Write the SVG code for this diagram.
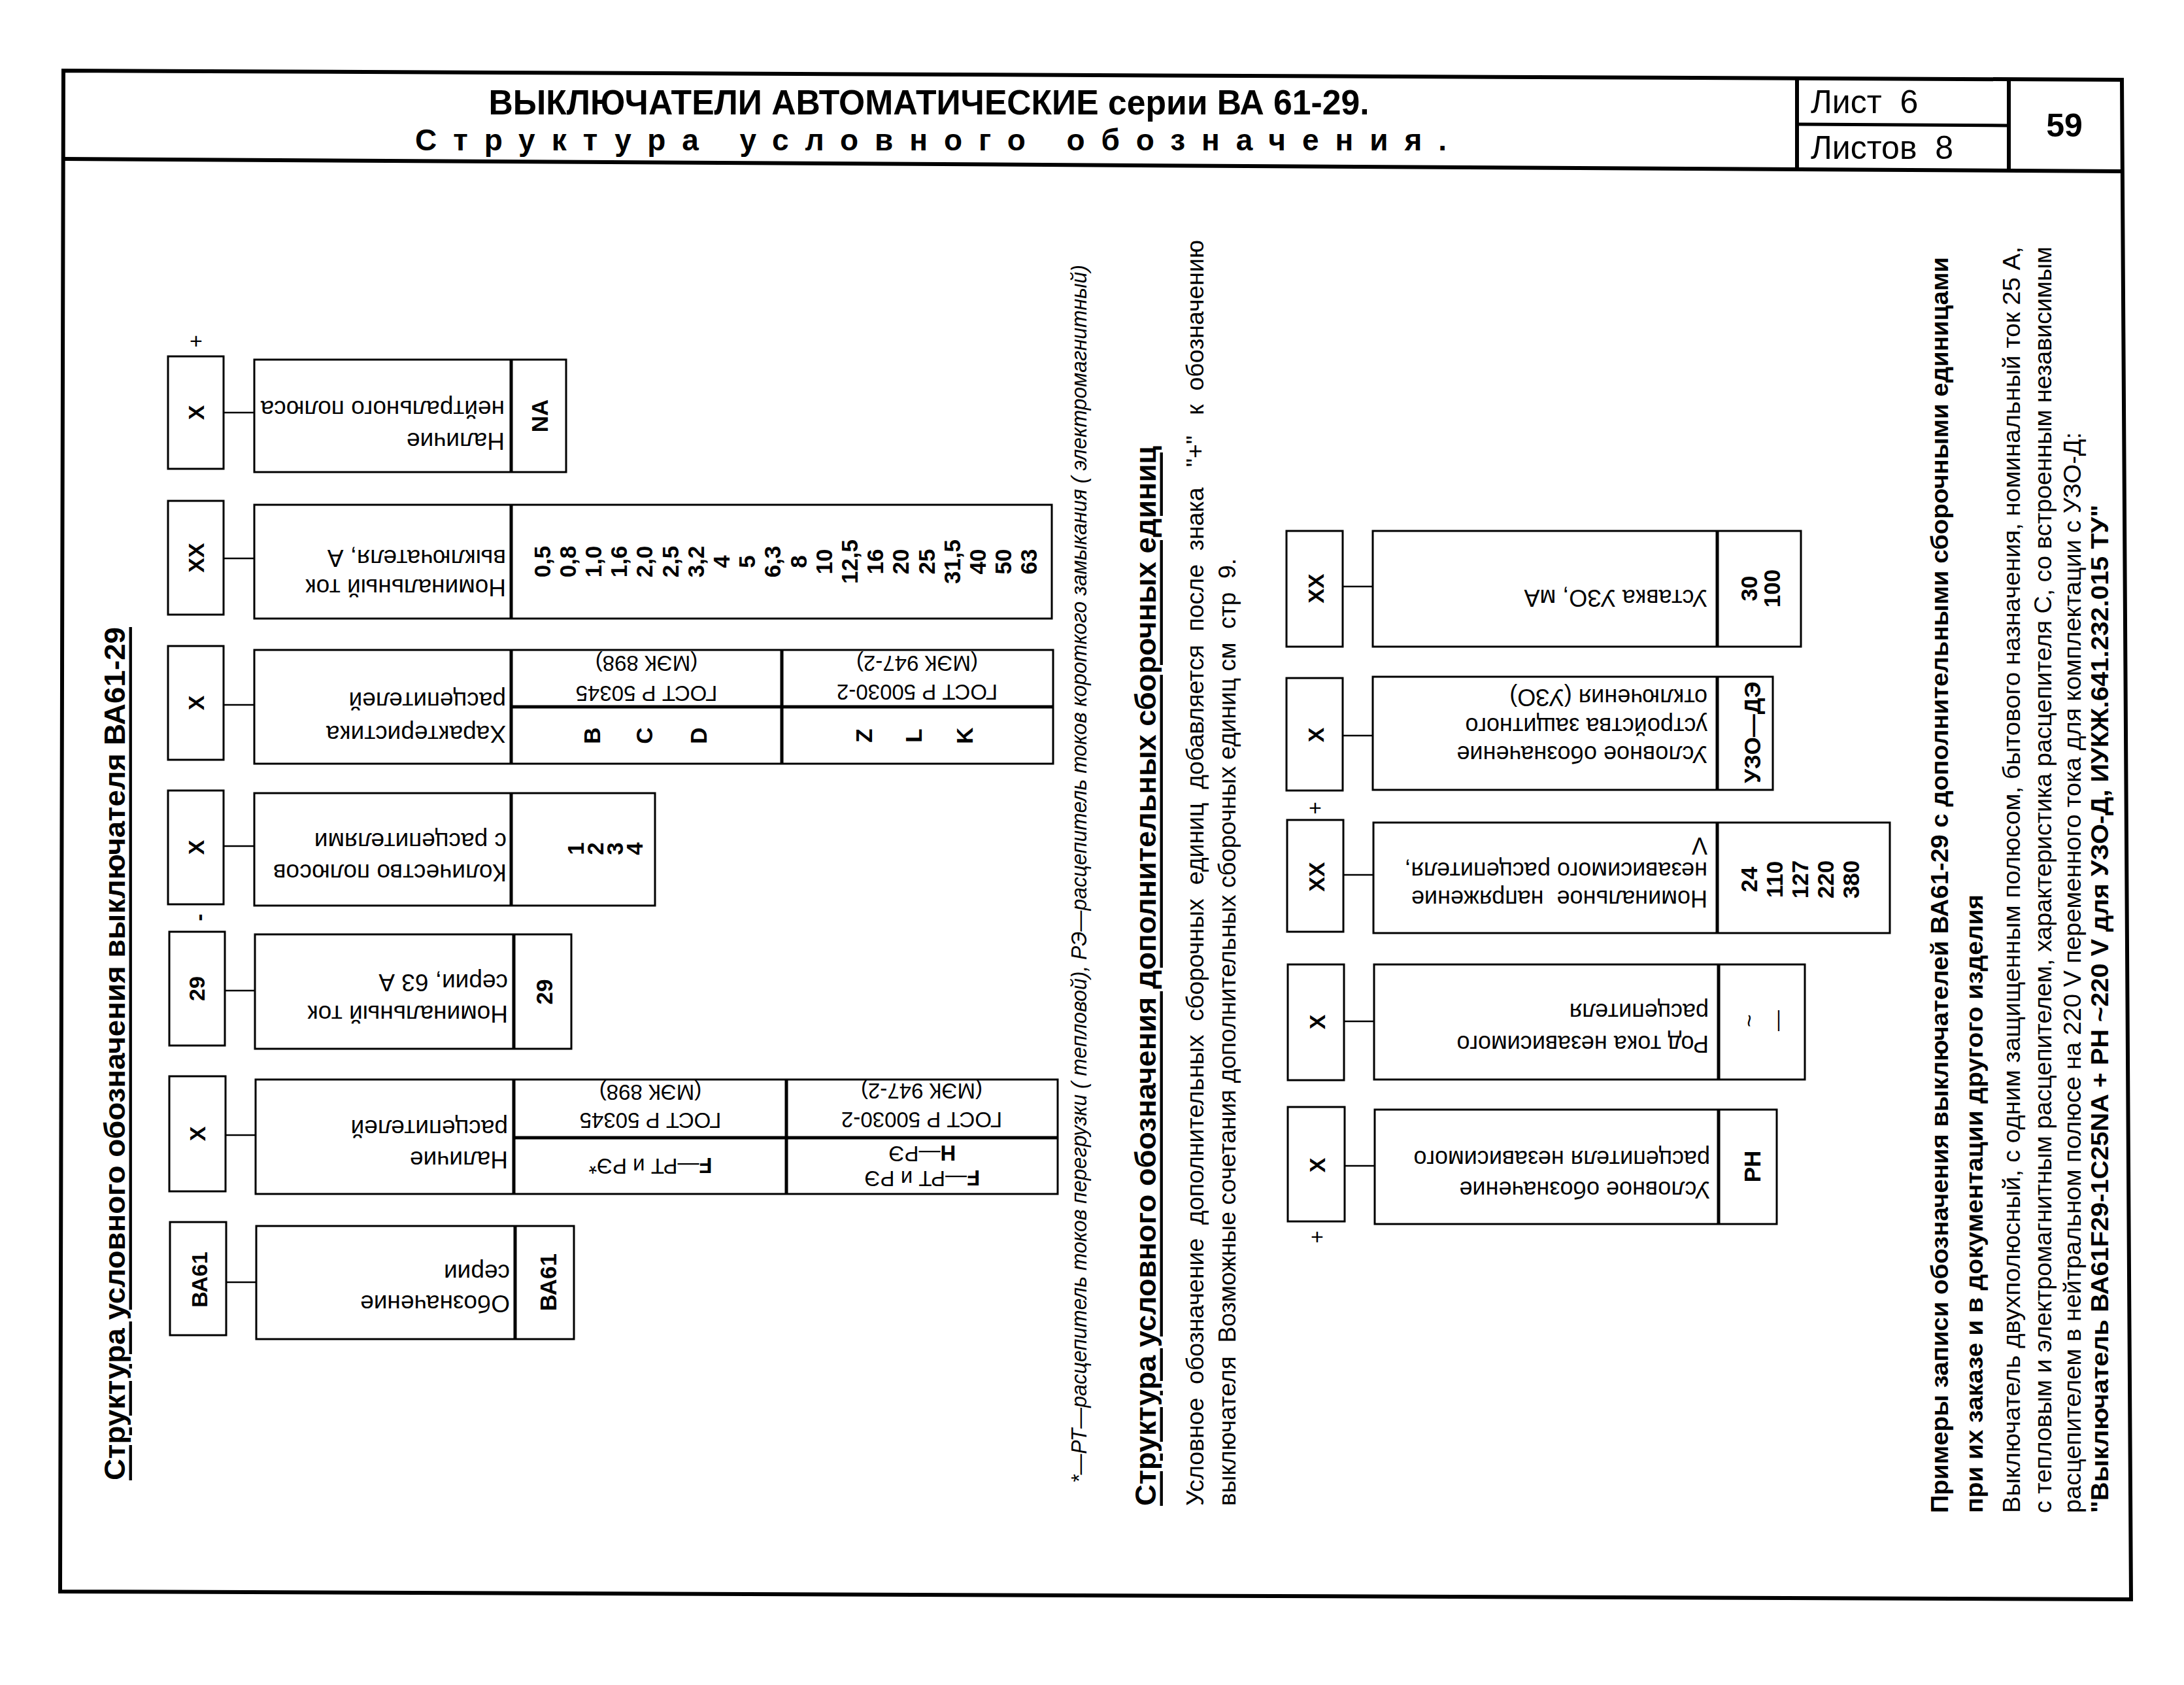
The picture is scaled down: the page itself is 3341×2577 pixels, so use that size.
<svg xmlns="http://www.w3.org/2000/svg" width="3341" height="2577" viewBox="0 0 3341 2577">
<style>
text{font-family:"Liberation Sans",Arial,"Noto Sans",sans-serif;fill:#000;dominant-baseline:central}
.b{font-weight:bold}
.box{fill:none;stroke:#000;stroke-width:3}
.dv{stroke:#000;stroke-width:5;fill:none}
.frame{stroke:#000;stroke-width:6;fill:none}
.conn line{stroke:#000;stroke-width:2.5}
.code{font-weight:bold;font-size:34px}
.val{font-weight:bold;font-size:35px}
.lbl{font-size:37px}
.lbl2{font-size:36px}
.gost{font-size:33px}
.sign{font-size:34px}
.txt{font-size:36px}
</style>
<rect width="3341" height="2577" fill="#fff"/>

<g id="frame">
<polygon class="frame" points="97,108 3246,122 3260,2446 92,2434"/>
<line class="frame" x1="97" y1="243" x2="3246" y2="262"/>
<line class="frame" x1="2749" y1="120" x2="2749" y2="259"/>
<line class="frame" x1="3073" y1="121" x2="3073" y2="261"/>
<line class="dv" x1="2749" y1="190" x2="3073" y2="192"/>
</g>

<g id="header">
<text class="b" x="1421" y="156" text-anchor="middle" font-size="54" textLength="1347" lengthAdjust="spacingAndGlyphs">ВЫКЛЮЧАТЕЛИ АВТОМАТИЧЕСКИЕ серии ВА 61-29.</text>
<text class="b" x="635" y="214" font-size="46" textLength="1578" lengthAdjust="spacing">Структура условного обозначения.</text>
<text x="2770" y="156" font-size="50" xml:space="preserve">Лист  6</text>
<text x="2770" y="226" font-size="50" xml:space="preserve">Листов  8</text>
<text class="b" x="3158" y="192" font-size="50" text-anchor="middle">59</text>
</g>

<g id="titles">
<text class="b" x="175" y="2264" font-size="44" text-decoration="underline" transform="rotate(-90 175 2264)" textLength="1305" lengthAdjust="spacingAndGlyphs">Структура условного обозначения выключателя ВА61-29</text>
<text x="1650" y="2268" font-size="34" font-style="italic" transform="rotate(-90 1650 2268)" textLength="1863" lengthAdjust="spacingAndGlyphs">*—РТ—расцепитель токов перегрузки ( тепловой),  РЭ—расцепитель токов короткого замыкания ( электромагнитный)</text>
<text class="b" x="1752" y="2303" font-size="44" text-decoration="underline" transform="rotate(-90 1752 2303)" textLength="1621" lengthAdjust="spacingAndGlyphs">Структура условного обозначения дополнительных сборочных единиц</text>
<text class="txt" x="1828" y="2303" transform="rotate(-90 1828 2303)" textLength="1936" lengthAdjust="spacingAndGlyphs" xml:space="preserve">Условное  обозначение  дополнительных  сборочных  единиц  добавляется  после  знака   "+"   к  обозначению</text>
<text class="txt" x="1877" y="2303" transform="rotate(-90 1877 2303)" textLength="1449" lengthAdjust="spacingAndGlyphs" xml:space="preserve">выключателя  Возможные сочетания дополнительных сборочных единиц см  стр  9.</text>
</g>

<g id="examples">
<text class="txt b" x="2967" y="2314" transform="rotate(-90 2967 2314)" textLength="1921" lengthAdjust="spacingAndGlyphs">Примеры записи обозначения выключателей ВА61-29 с дополнительными сборочными единицами</text>
<text class="txt b" x="3020" y="2314" transform="rotate(-90 3020 2314)" textLength="946" lengthAdjust="spacingAndGlyphs">при их заказе и в документации другого изделия</text>
<text class="txt" x="3077" y="2314" transform="rotate(-90 3077 2314)" textLength="1937" lengthAdjust="spacingAndGlyphs">Выключатель двухполюсный,  с одним защищенным полюсом,  бытового назначения,  номинальный ток 25 А,</text>
<text class="txt" x="3125" y="2314" transform="rotate(-90 3125 2314)" textLength="1937" lengthAdjust="spacingAndGlyphs">с тепловым и электромагнитным расцепителем, характеристика расцепителя С, со встроенным независимым</text>
<text class="txt" x="3170" y="2314" transform="rotate(-90 3170 2314)" textLength="1653" lengthAdjust="spacingAndGlyphs">расцепителем в нейтральном полюсе на 220 V переменного тока для комплектации с УЗО-Д:</text>
<text class="txt b" x="3212" y="2314" transform="rotate(-90 3212 2314)" textLength="1542" lengthAdjust="spacingAndGlyphs">"Выключатель ВА61F29-1C25NA + РН ~220 V для УЗО-Д, ИУКЖ.641.232.015 ТУ"</text>
</g>

<g id="connectors" class="conn">
<line x1="342" y1="631" x2="389" y2="631"/>
<line x1="342" y1="854" x2="389" y2="854"/>
<line x1="342" y1="1078" x2="389" y2="1078"/>
<line x1="342" y1="1294" x2="389" y2="1294"/>
<line x1="344" y1="1515" x2="390" y2="1515"/>
<line x1="345" y1="1736" x2="391" y2="1736"/>
<line x1="346" y1="1961" x2="392" y2="1961"/>
<line x1="2054" y1="897" x2="2100" y2="897"/>
<line x1="2054" y1="1125" x2="2100" y2="1125"/>
<line x1="2055" y1="1338" x2="2101" y2="1338"/>
<line x1="2056" y1="1562" x2="2102" y2="1562"/>
<line x1="2057" y1="1783" x2="2103" y2="1783"/>
</g>

<g id="signs">
<text class="sign" x="300" y="521" text-anchor="middle">+</text>
<text class="sign b" x="304" y="1403" text-anchor="middle" transform="rotate(-90 304 1403)">-</text>
<text class="sign" x="2012" y="1235" text-anchor="middle">+</text>
<text class="sign" x="2015" y="1891" text-anchor="middle">+</text>
</g>

<g id="node-neutral">
<rect class="box" x="257" y="545" width="85" height="172"/>
<text class="code" x="300" y="631" text-anchor="middle" transform="rotate(-90 300 631)">X</text>
<rect class="box" x="389" y="550" width="477" height="172"/>
<line class="dv" x1="782" y1="550" x2="782" y2="722"/>
<text class="lbl" x="772" y="674" transform="rotate(180 772 674)">Наличие</text>
<text class="lbl" x="772" y="625" transform="rotate(180 772 625)">нейтрального полюса</text>
<text class="val" x="825" y="636" text-anchor="middle" transform="rotate(-90 825 636)">NA</text>
</g>

<g id="node-current">
<rect class="box" x="257" y="766" width="85" height="174"/>
<text class="code" x="300" y="853" text-anchor="middle" transform="rotate(-90 300 853)">XX</text>
<rect class="box" x="389" y="772" width="1220" height="174"/>
<line class="dv" x1="782" y1="772" x2="782" y2="946"/>
<text class="lbl" x="774" y="898" transform="rotate(180 774 898)">Номинальный ток</text>
<text class="lbl" x="774" y="853" transform="rotate(180 774 853)">выключателя, А</text>
<g class="val" text-anchor="middle">
<text x="829" y="859" transform="rotate(-90 829 859)">0,5</text>
<text x="868.2" y="859" transform="rotate(-90 868.2 859)">0,8</text>
<text x="907.4" y="859" transform="rotate(-90 907.4 859)">1,0</text>
<text x="946.6" y="859" transform="rotate(-90 946.6 859)">1,6</text>
<text x="985.8" y="859" transform="rotate(-90 985.8 859)">2,0</text>
<text x="1025" y="859" transform="rotate(-90 1025 859)">2,5</text>
<text x="1064.2" y="859" transform="rotate(-90 1064.2 859)">3,2</text>
<text x="1103.4" y="859" transform="rotate(-90 1103.4 859)">4</text>
<text x="1142.6" y="859" transform="rotate(-90 1142.6 859)">5</text>
<text x="1181.8" y="859" transform="rotate(-90 1181.8 859)">6,3</text>
<text x="1221" y="859" transform="rotate(-90 1221 859)">8</text>
<text x="1260.2" y="859" transform="rotate(-90 1260.2 859)">10</text>
<text x="1299.4" y="859" transform="rotate(-90 1299.4 859)">12,5</text>
<text x="1338.6" y="859" transform="rotate(-90 1338.6 859)">16</text>
<text x="1377.8" y="859" transform="rotate(-90 1377.8 859)">20</text>
<text x="1417" y="859" transform="rotate(-90 1417 859)">25</text>
<text x="1456.2" y="859" transform="rotate(-90 1456.2 859)">31,5</text>
<text x="1495.4" y="859" transform="rotate(-90 1495.4 859)">40</text>
<text x="1534.6" y="859" transform="rotate(-90 1534.6 859)">50</text>
<text x="1573.8" y="859" transform="rotate(-90 1573.8 859)">63</text>
</g>
</g>

<g id="node-characteristic">
<rect class="box" x="257" y="988" width="85" height="174"/>
<text class="code" x="300" y="1075" text-anchor="middle" transform="rotate(-90 300 1075)">X</text>
<rect class="box" x="389" y="994" width="1222" height="174"/>
<line class="dv" x1="782" y1="994" x2="782" y2="1168"/>
<line class="dv" x1="1196" y1="994" x2="1196" y2="1168"/>
<line class="dv" x1="782" y1="1081" x2="1611" y2="1081"/>
<text class="lbl" x="774" y="1122" transform="rotate(180 774 1122)">Характеристика</text>
<text class="lbl" x="774" y="1071" transform="rotate(180 774 1071)">расцепителей</text>
<text class="gost" x="989" y="1060" text-anchor="middle" transform="rotate(180 989 1060)">ГОСТ Р 50345</text>
<text class="gost" x="989" y="1014" text-anchor="middle" transform="rotate(180 989 1014)">(МЭК 898)</text>
<text class="gost" x="1403" y="1058" text-anchor="middle" transform="rotate(180 1403 1058)">ГОСТ Р 50030-2</text>
<text class="gost" x="1403" y="1014" text-anchor="middle" transform="rotate(180 1403 1014)">(МЭК 947-2)</text>
<g class="val" text-anchor="middle">
<text x="905" y="1125" transform="rotate(-90 905 1125)">B</text>
<text x="985" y="1125" transform="rotate(-90 985 1125)">C</text>
<text x="1068" y="1125" transform="rotate(-90 1068 1125)">D</text>
<text x="1321" y="1125" transform="rotate(-90 1321 1125)">Z</text>
<text x="1397" y="1125" transform="rotate(-90 1397 1125)">L</text>
<text x="1475" y="1125" transform="rotate(-90 1475 1125)">K</text>
</g>
</g>

<g id="node-poles">
<rect class="box" x="257" y="1209" width="85" height="174"/>
<text class="code" x="300" y="1296" text-anchor="middle" transform="rotate(-90 300 1296)">X</text>
<rect class="box" x="389" y="1213" width="613" height="172"/>
<line class="dv" x1="782" y1="1213" x2="782" y2="1385"/>
<text class="lbl" x="775" y="1334" transform="rotate(180 775 1334)">Количество полюсов</text>
<text class="lbl" x="775" y="1286" transform="rotate(180 775 1286)">с расцепителями</text>
<g class="val" text-anchor="middle">
<text x="880" y="1298" transform="rotate(-90 880 1298)">1</text>
<text x="910" y="1298" transform="rotate(-90 910 1298)">2</text>
<text x="940" y="1298" transform="rotate(-90 940 1298)">3</text>
<text x="970" y="1298" transform="rotate(-90 970 1298)">4</text>
</g>
</g>

<g id="node-series-current">
<rect class="box" x="259" y="1425" width="85" height="174"/>
<text class="code" x="301" y="1512" text-anchor="middle" transform="rotate(-90 301 1512)">29</text>
<rect class="box" x="390" y="1429" width="484" height="175"/>
<line class="dv" x1="786" y1="1429" x2="786" y2="1604"/>
<text class="lbl" x="777" y="1550" transform="rotate(180 777 1550)">Номинальный ток</text>
<text class="lbl" x="777" y="1502" transform="rotate(180 777 1502)">серии, 63 А</text>
<text class="val" x="832" y="1517" text-anchor="middle" transform="rotate(-90 832 1517)">29</text>
</g>

<g id="node-releases">
<rect class="box" x="259" y="1646" width="86" height="176"/>
<text class="code" x="302" y="1734" text-anchor="middle" transform="rotate(-90 302 1734)">X</text>
<rect class="box" x="391" y="1651" width="1227" height="175"/>
<line class="dv" x1="786" y1="1651" x2="786" y2="1826"/>
<line class="dv" x1="1203" y1="1651" x2="1203" y2="1826"/>
<line class="dv" x1="786" y1="1740" x2="1618" y2="1740"/>
<text class="lbl" x="777" y="1773" transform="rotate(180 777 1773)">Наличие</text>
<text class="lbl" x="777" y="1725" transform="rotate(180 777 1725)">расцепителей</text>
<text class="gost" x="995" y="1713" text-anchor="middle" transform="rotate(180 995 1713)">ГОСТ Р 50345</text>
<text class="gost" x="995" y="1670" text-anchor="middle" transform="rotate(180 995 1670)">(МЭК 898)</text>
<text class="gost" x="1410" y="1712" text-anchor="middle" transform="rotate(180 1410 1712)">ГОСТ Р 50030-2</text>
<text class="gost" x="1410" y="1668" text-anchor="middle" transform="rotate(180 1410 1668)">(МЭК 947-2)</text>
<text class="gost" x="995" y="1783" text-anchor="middle" transform="rotate(180 995 1783)"><tspan font-weight="bold">F</tspan>—РТ и РЭ*</text>
<text class="gost" x="1411" y="1802" text-anchor="middle" transform="rotate(180 1411 1802)"><tspan font-weight="bold">F</tspan>—РТ и РЭ</text>
<text class="gost" x="1411" y="1764" text-anchor="middle" transform="rotate(180 1411 1764)"><tspan font-weight="bold">H</tspan>—РЭ</text>
</g>

<g id="node-series">
<rect class="box" x="260" y="1869" width="86" height="173"/>
<text class="code" x="305" y="1957" font-size="33" text-anchor="middle" transform="rotate(-90 305 1957)">ВА61</text>
<rect class="box" x="392" y="1875" width="486" height="173"/>
<line class="dv" x1="788" y1="1875" x2="788" y2="2048"/>
<text class="lbl" x="780" y="1993" transform="rotate(180 780 1993)">Обозначение</text>
<text class="lbl" x="780" y="1946" transform="rotate(180 780 1946)">серии</text>
<text class="val" x="838" y="1961" font-size="33" text-anchor="middle" transform="rotate(-90 838 1961)">ВА61</text>
</g>

<g id="node-rcd-setting">
<rect class="box" x="1968" y="812" width="86" height="177"/>
<text class="code" x="2013" y="900" text-anchor="middle" transform="rotate(-90 2013 900)">XX</text>
<rect class="box" x="2100" y="812" width="655" height="177"/>
<line class="dv" x1="2627" y1="812" x2="2627" y2="989"/>
<text class="lbl2" x="2612" y="914" transform="rotate(180 2612 914)">Уставка УЗО, мА</text>
<text class="val" x="2675" y="900" text-anchor="middle" transform="rotate(-90 2675 900)">30</text>
<text class="val" x="2710" y="900" text-anchor="middle" transform="rotate(-90 2710 900)">100</text>
</g>

<g id="node-rcd">
<rect class="box" x="1968" y="1037" width="86" height="172"/>
<text class="code" x="2013" y="1124" text-anchor="middle" transform="rotate(-90 2013 1124)">X</text>
<rect class="box" x="2100" y="1035" width="612" height="173"/>
<line class="dv" x1="2627" y1="1035" x2="2627" y2="1208"/>
<text class="lbl2" x="2612" y="1153" transform="rotate(180 2612 1153)">Условное обозначение</text>
<text class="lbl2" x="2612" y="1110" transform="rotate(180 2612 1110)">устройства защитного</text>
<text class="lbl2" x="2612" y="1066" transform="rotate(180 2612 1066)">отключения (УЗО)</text>
<text class="val" x="2680" y="1120" font-size="33" text-anchor="middle" transform="rotate(-90 2680 1120)">УЗО—ДЭ</text>
</g>

<g id="node-voltage">
<rect class="box" x="1969" y="1254" width="86" height="171"/>
<text class="code" x="2014" y="1341" text-anchor="middle" transform="rotate(-90 2014 1341)">XX</text>
<rect class="box" x="2101" y="1258" width="790" height="169"/>
<line class="dv" x1="2627" y1="1258" x2="2627" y2="1427"/>
<text class="lbl2" x="2612" y="1374" transform="rotate(180 2612 1374)" xml:space="preserve">Номинальное  напряжение</text>
<text class="lbl2" x="2612" y="1331" transform="rotate(180 2612 1331)">независимого расцепителя,</text>
<text class="lbl2" x="2612" y="1293" transform="rotate(180 2612 1293)">V</text>
<g class="val" text-anchor="middle">
<text x="2675" y="1345" transform="rotate(-90 2675 1345)">24</text>
<text x="2714" y="1345" transform="rotate(-90 2714 1345)">110</text>
<text x="2753" y="1345" transform="rotate(-90 2753 1345)">127</text>
<text x="2792" y="1345" transform="rotate(-90 2792 1345)">220</text>
<text x="2831" y="1345" transform="rotate(-90 2831 1345)">380</text>
</g>
</g>

<g id="node-current-kind">
<rect class="box" x="1970" y="1475" width="86" height="177"/>
<text class="code" x="2015" y="1563" text-anchor="middle" transform="rotate(-90 2015 1563)">X</text>
<rect class="box" x="2102" y="1475" width="659" height="176"/>
<line class="dv" x1="2629" y1="1475" x2="2629" y2="1651"/>
<text class="lbl2" x="2614" y="1596" transform="rotate(180 2614 1596)">Род тока независимого</text>
<text class="lbl2" x="2614" y="1547" transform="rotate(180 2614 1547)">расцепителя</text>
<text x="2675" y="1561" font-size="34" text-anchor="middle" transform="rotate(-90 2675 1561)">~</text>
<text x="2718" y="1561" font-size="32" text-anchor="middle" transform="rotate(-90 2718 1561)">—</text>
</g>

<g id="node-shunt">
<rect class="box" x="1970" y="1693" width="87" height="175"/>
<text class="code" x="2015" y="1782" text-anchor="middle" transform="rotate(-90 2015 1782)">X</text>
<rect class="box" x="2103" y="1697" width="615" height="175"/>
<line class="dv" x1="2629" y1="1697" x2="2629" y2="1872"/>
<text class="lbl2" x="2616" y="1819" transform="rotate(180 2616 1819)">Условное обозначение</text>
<text class="lbl2" x="2616" y="1772" transform="rotate(180 2616 1772)">расцепителя независимого</text>
<text class="val" x="2680" y="1784" text-anchor="middle" transform="rotate(-90 2680 1784)">РН</text>
</g>
</svg>
